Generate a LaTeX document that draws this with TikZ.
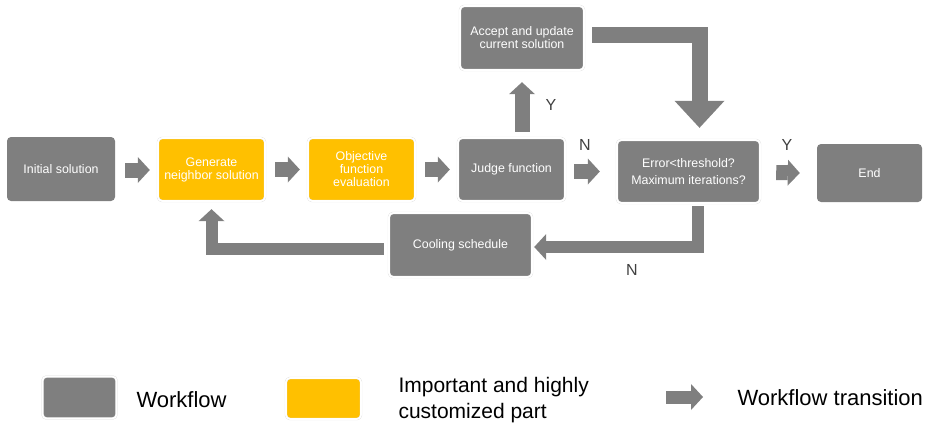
\documentclass[tikz,border=0pt]{standalone}
\usepackage{fontspec}
\setmainfont{Liberation Sans}
\usetikzlibrary{arrows.meta}
\usetikzlibrary{calc}
\definecolor{flowgray}{HTML}{7F7F7F}
\definecolor{keyyellow}{HTML}{FFC000}
\definecolor{labelgray}{HTML}{404040}
\tikzset{
    box/.style={rectangle, rounded corners=4pt, text=white, align=center, inner sep=2pt,
        font=\fontsize{12.4}{13}\selectfont},
    workbox/.style={box, fill=flowgray},
    keybox/.style={box, fill=keyyellow},
    framed/.style={draw=black!12, double=white, double distance=1.6pt, line width=0.4pt},
    flow/.style={draw=flowgray, line width=15pt, line join=miter,
        -{Triangle[width=26pt, length=12pt, line width=0pt]}},
    loopflow/.style={flow, line width=12pt},
    bigflow/.style={draw=flowgray, line width=16pt, line join=miter,
        -{Triangle[width=50pt, length=27pt, line width=0pt]}},
    yn/.style={text=labelgray, font=\fontsize{16}{18}\selectfont},
    legend/.style={text=black, font=\fontsize{22}{26}\selectfont}
}

\begin{document}
\begin{tikzpicture}[x=1pt, y=-1pt]
    \useasboundingbox (0,0) rectangle (928,428);

    % Workflow boxes
    \node[workbox, minimum width=108pt, minimum height=64pt] (IS) at (61,169) {Initial solution};
    \node[keybox, framed, minimum width=107pt, minimum height=63pt] (GN) at (211.5,169.5) {Generate\\neighbor solution};
    \node[keybox, framed, minimum width=107pt, minimum height=63pt] (OF) at (361.5,169.5) {Objective\\function\\evaluation};
    \node[workbox, framed, minimum width=107pt, minimum height=63pt] (JF) at (511.5,169.5) {Judge function};
    \node[workbox, framed, minimum width=124pt, minimum height=64pt] (AU) at (522,38) {Accept and update\\current solution};
    \node[workbox, framed, minimum width=143pt, minimum height=63pt] (ET) at (688.5,171.5) {Error<threshold?\\[4pt]Maximum iterations?};
    \node[workbox, minimum width=105pt, minimum height=58pt] (E) at (869.5,173) {End};
    \node[workbox, framed, minimum width=143pt, minimum height=64pt] (CS) at (460.5,245) {Cooling schedule};

    % Transitions
    \draw[flow] ($(IS.east)+(10,1)$) -- ($(GN.west)+(-8,0.5)$);
    \draw[flow] ($(GN.east)+(10,0)$) -- ($(OF.west)+(-8,0)$);
    \draw[flow] ($(OF.east)+(10,0)$) -- ($(JF.west)+(-8,0)$);
    \draw[flow] ($(JF.east|-ET.west)+(9,0)$) -- ($(ET.west)+(-17,0)$);
    \draw[flow] ($(ET.east)+(16,1)$) -- ($(E.west)+(-17,0)$);
    \draw[flow] ($(AU.south|-JF.north)+(0,-6)$) -- ($(AU.south)+(0,12)$);
    \draw[bigflow] ($(AU.east)+(8,-2.5)$) -| ($(ET.north)+(11,-12)$);
    \draw[loopflow] ($(ET.south)+(9,3)$) |- ($(CS.east)+(2,2)$);
    \draw[loopflow] ($(CS.west)+(-5,4)$) -| ($(GN.south)+(0,8)$);

    % Branch labels
    \node[yn] (Y1) at (551,105) {Y};
    \node[yn] (N1) at (585,145) {N};
    \node[yn] (Y2) at (787,145) {Y};
    \node[yn] (N2) at (632,270) {N};

    % Legend
    \node[workbox, framed, minimum width=74pt, minimum height=42pt] (LW) at (79.5,397.5) {};
    \node[legend, anchor=west] (LWt) at (133,400) {Workflow};
    \node[keybox, framed, minimum width=75pt, minimum height=41pt] (LI) at (323.5,398.5) {};
    \node[legend, anchor=west, align=left, font=\fontsize{21}{26}\selectfont] (LIt) at (395,400) {Important and highly\\customized part};
    \coordinate (LA1) at (666,397);
    \coordinate (LA2) at (703,397);
    \draw[flow, line width=13pt] (LA1) -- (LA2);
    \node[legend, anchor=west] (LAt) at (734,398) {Workflow transition};
\end{tikzpicture}
\end{document}
